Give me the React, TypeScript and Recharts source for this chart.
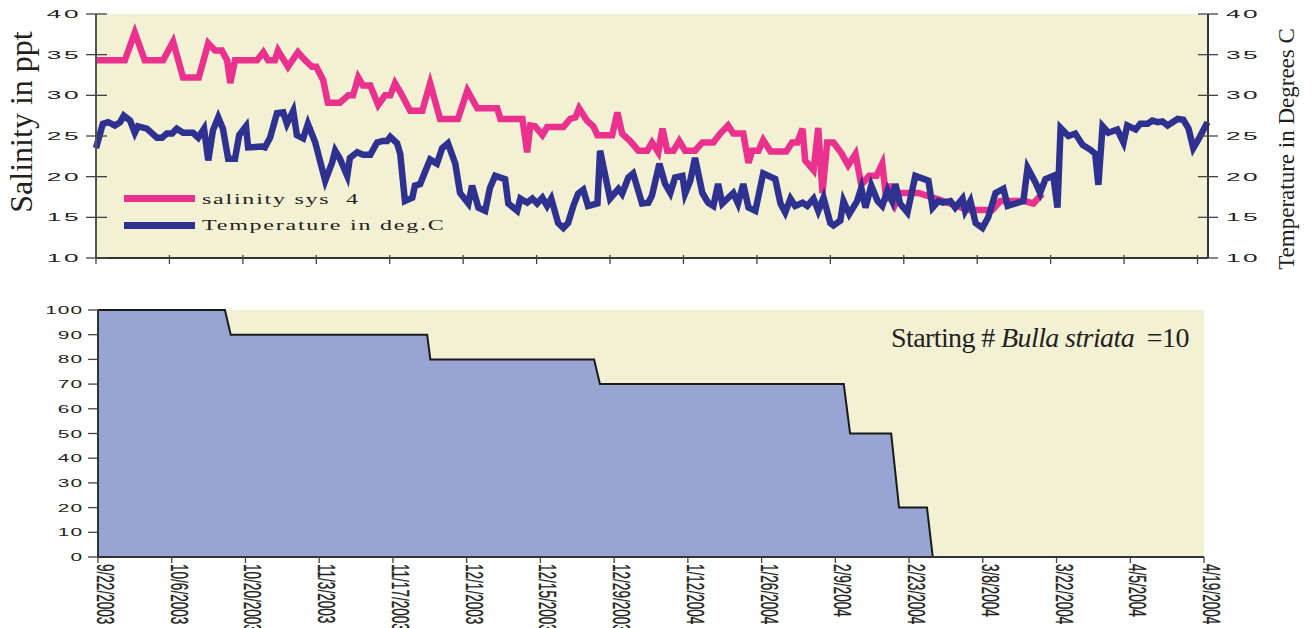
import React from "react"
import { LineChart, Line, AreaChart, Area, XAxis, YAxis, CartesianGrid } from "recharts"

// days since 9/22/2003
const dateTicks = [0, 14, 28, 42, 56, 70, 84, 98, 112, 126, 140, 154, 168, 182, 196, 210]
const dateLabels = [
    "9/22/2003", "10/6/2003", "10/20/2003", "11/3/2003", "11/17/2003", "12/1/2003",
    "12/15/2003", "12/29/2003", "1/12/2004", "1/26/2004", "2/9/2004", "2/23/2004",
    "3/8/2004", "3/22/2004", "4/5/2004", "4/19/2004"
]

const degreeTicks = [10, 15, 20, 25, 30, 35, 40]
const percentTicks = [0, 10, 20, 30, 40, 50, 60, 70, 80, 90, 100]

const salinityDays = [
    0, 5.5, 7.4, 9.3, 12.8, 14.7, 16.6, 19.6, 21.4, 22.7,
    24.0, 25.0, 25.6, 26.5, 30.7, 31.9, 32.8, 34.1, 34.7, 36.6,
    38.5, 39.9, 41.2, 42.0, 43.3, 44.2, 46.5, 48.1, 49.0, 50.0,
    50.9, 52.3, 53.8, 55.1, 56.1, 57.0, 58.0, 59.9, 62.2, 63.7,
    65.6, 69.0, 70.8, 72.7, 76.5, 77.1, 81.3, 82.2, 82.8, 83.7,
    85.1, 86.0, 89.1, 90.4, 91.4, 92.1, 93.6, 94.8, 95.6, 98.4,
    99.4, 100.3, 101.8, 103.4, 105.1, 106.0, 107.2, 108.0, 108.9, 110.1,
    111.2, 112.3, 114.2, 115.6, 117.7, 119.0, 120.5, 121.5, 123.4, 124.4,
    125.1, 126.3, 127.2, 128.6, 131.6, 132.7, 133.7, 134.7, 135.2, 136.8,
    137.7, 138.5, 139.4, 140.6, 142.1, 143.4, 144.8, 145.9, 147.4, 148.8,
    149.9, 150.7, 151.4, 152.4, 153.3, 156.8, 160.6, 166.3, 170.9, 172.4,
    177.0, 178.7, 180.4
]
const salinityValues = [
    34.3, 34.3, 37.7, 34.3, 34.3, 36.6, 32.2, 32.2, 36.4, 35.5,
    35.5, 34.3, 31.5, 34.3, 34.3, 35.3, 34.3, 34.3, 35.5, 33.5,
    35.3, 34.3, 33.5, 33.5, 31.9, 29.1, 29.1, 30.0, 30.0, 32.2,
    31.2, 31.2, 28.8, 30.0, 30.0, 31.5, 30.4, 28.1, 28.1, 31.5,
    27.1, 27.1, 30.6, 28.4, 28.4, 27.1, 27.1, 23.0, 26.3, 26.2,
    25.1, 26.1, 26.1, 27.1, 27.3, 28.4, 26.9, 26.2, 25.1, 25.1,
    27.9, 25.3, 24.4, 23.2, 23.2, 24.2, 23.0, 25.9, 23.2, 23.2,
    24.4, 23.2, 23.2, 24.2, 24.2, 25.3, 26.3, 25.3, 25.3, 21.7,
    23.2, 23.2, 24.5, 23.1, 23.1, 24.2, 24.2, 25.9, 22.0, 20.8,
    26.0, 18.0, 24.2, 24.2, 22.9, 21.4, 22.8, 19.0, 20.1, 20.1,
    21.6, 17.0, 19.1, 16.7, 18.0, 18.0, 17.2, 15.9, 15.9, 17.0,
    17.0, 16.7, 17.9
]

const tempDays = [
    0, 1.3, 2.3, 3.6, 4.6, 5.3, 6.5, 7.4, 8.0, 9.7,
    11.6, 12.6, 13.5, 14.5, 15.4, 16.6, 18.5, 19.5, 20.6, 21.4,
    22.3, 23.3, 24.2, 25.2, 26.5, 27.3, 28.6, 29.0, 31.7, 32.2,
    33.2, 34.5, 35.7, 36.4, 37.6, 38.3, 39.5, 40.4, 41.8, 43.7,
    45.0, 45.6, 46.5, 47.9, 48.4, 49.8, 50.9, 52.3, 53.6, 54.7,
    55.5, 56.1, 57.4, 58.0, 58.9, 60.3, 60.8, 61.8, 62.8, 63.7,
    65.0, 66.0, 67.1, 68.5, 69.4, 71.0, 71.7, 72.9, 74.2, 75.1,
    76.1, 78.0, 78.6, 80.3, 80.9, 82.2, 83.2, 84.1, 85.1, 86.0,
    86.8, 88.1, 89.1, 90.0, 91.0, 91.9, 92.9, 93.8, 95.6, 96.1,
    98.0, 99.6, 100.3, 101.5, 102.4, 104.1, 105.3, 106.0, 107.4, 108.5,
    109.5, 110.4, 111.8, 112.3, 113.3, 114.2, 115.6, 116.7, 117.7, 118.6,
    119.4, 121.5, 122.4, 123.4, 124.4, 125.7, 127.2, 129.5, 130.5, 131.4,
    132.4, 133.3, 134.7, 135.6, 136.8, 137.7, 138.7, 140.0, 140.6, 141.9,
    142.5, 143.6, 145.1, 145.9, 146.7, 147.8, 149.0, 149.9, 150.9, 151.8,
    152.4, 153.3, 154.7, 156.2, 158.7, 159.5, 160.6, 161.5, 162.9, 163.8,
    165.2, 165.7, 166.7, 167.7, 169.0, 170.1, 171.5, 173.0, 173.8, 175.3,
    176.8, 177.6, 179.1, 180.0, 181.0, 182.5, 183.3, 183.9, 185.4, 186.7,
    188.1, 189.6, 190.5, 191.1, 191.9, 193.0, 194.7, 195.9, 196.6, 198.2,
    199.1, 200.5, 201.4, 202.4, 203.3, 204.3, 206.2, 207.3, 208.3, 209.2,
    210.2, 211.9
]
const tempValues = [
    23.5, 26.5, 26.7, 26.3, 26.7, 27.5, 26.9, 25.4, 26.2, 25.9,
    24.8, 24.8, 25.3, 25.3, 25.9, 25.4, 25.4, 24.8, 25.9, 22.0,
    25.7, 27.3, 25.9, 22.2, 22.2, 25.1, 26.2, 23.6, 23.7, 23.6,
    24.8, 27.8, 27.9, 26.5, 28.1, 25.1, 24.7, 26.5, 24.2, 19.5,
    21.7, 23.2, 22.2, 20.1, 22.3, 23.0, 22.7, 22.7, 24.2, 24.4,
    24.4, 24.9, 24.1, 22.8, 17.0, 17.4, 18.9, 19.1, 20.7, 22.1,
    21.6, 23.5, 24.1, 21.6, 18.0, 16.7, 18.9, 16.2, 15.8, 18.6,
    20.1, 19.7, 16.7, 15.8, 17.3, 16.8, 17.3, 16.7, 17.4, 16.4,
    17.3, 14.3, 13.7, 14.3, 16.4, 17.9, 18.4, 16.4, 16.7, 23.2,
    17.3, 18.5, 17.9, 19.9, 20.4, 16.7, 16.8, 17.7, 21.6, 19.1,
    18.0, 19.9, 20.1, 17.9, 19.5, 22.3, 18.0, 16.8, 16.4, 19.1,
    16.7, 18.0, 16.7, 19.1, 16.2, 15.8, 20.4, 19.7, 16.7, 15.6,
    17.3, 16.4, 16.8, 16.4, 17.3, 15.8, 17.4, 14.3, 14.0, 14.6,
    17.0, 15.4, 17.0, 18.6, 16.2, 18.9, 17.0, 16.4, 18.3, 17.0,
    19.1, 16.7, 15.6, 20.1, 19.5, 16.2, 17.0, 16.8, 17.0, 16.2,
    17.3, 15.8, 17.0, 14.3, 13.7, 15.0, 18.0, 18.5, 16.4, 16.7,
    17.0, 21.1, 19.3, 18.0, 19.7, 20.1, 16.2, 26.0, 25.0, 25.3,
    23.9, 23.3, 22.8, 19.0, 26.2, 25.4, 25.8, 24.2, 26.3, 25.8,
    26.5, 26.5, 26.9, 26.7, 26.8, 26.3, 27.1, 27.0, 25.9, 23.5,
    24.6, 26.7
]

const survivalDays = [0, 24.1, 25.2, 62.5, 63.1, 94.2, 95.3, 141.6, 142.8, 150.6, 152.1, 157.4, 158.5, 210]
const survivalValues = [100, 100, 90, 90, 80, 80, 70, 70, 50, 50, 20, 20, 0, 0]

const cream = "#f3f1d4"
const pink = "#e9318d"
const navy = "#2f3190"
const ink = "#231f20"
const serif = "'Liberation Serif', 'Times New Roman', serif"
const sans = "'Liberation Sans', Arial, sans-serif"

const salinityData = salinityDays.map((day, i) => ({ day, salinity: salinityValues[i] }))
const tempData = tempDays.map((day, i) => ({ day, temp: tempValues[i] }))
const survivalData = survivalDays.map((day, i) => ({ day, alive: survivalValues[i] }))

const LeftDegTick = ({ x, y, payload }: any) => (
    <g>
        <line x1={x - 10} x2={x + 11} y1={y} y2={y} stroke="#444" strokeWidth={1.3} />
        <text transform={`translate(${x - 15},${y + 4}) scale(2.5,1)`} textAnchor="end"
            fontSize={10.5} fontFamily={sans} letterSpacing={1} fill={ink}>{payload.value}</text>
    </g>
)

const RightDegTick = ({ x, y, payload }: any) => (
    <g>
        <line x1={x - 10} x2={x + 10} y1={y} y2={y} stroke="#444" strokeWidth={1.3} />
        <text transform={`translate(${x + 18},${y + 4}) scale(2.5,1)`} textAnchor="start"
            fontSize={10.5} fontFamily={sans} letterSpacing={1} fill={ink}>{payload.value}</text>
    </g>
)

const TopDateTick = ({ x, y }: any) => (
    <line x1={x} x2={x} y1={y - 3} y2={y + 6} stroke="#444" strokeWidth={1.3} />
)

const PercentTick = ({ x, y, payload }: any) => (
    <g>
        <line x1={x - 10} x2={x} y1={y} y2={y} stroke="#444" strokeWidth={1.3} />
        <text transform={`translate(${x - 15},${y + 4}) scale(1.9,1)`} textAnchor="end"
            fontSize={11} fontFamily={sans} letterSpacing={0.5} fill={ink}>{payload.value}</text>
    </g>
)

const DateTick = ({ x, y, payload }: any) => {
    const label = dateLabels[dateTicks.indexOf(payload.value)]
    return (
        <g>
            <line x1={x} x2={x} y1={y} y2={y + 6} stroke="#444" strokeWidth={1.3} />
            <text transform={`translate(${x - 1},${y + 7}) rotate(90) scale(0.59,1)`}
                fontSize={23} fontFamily={sans} fill={ink} stroke={ink} strokeWidth={0.4}>{label}</text>
        </g>
    )
}

const legendText: React.CSSProperties = {
    position: "absolute",
    left: 202,
    fontFamily: serif,
    fontSize: 15,
    lineHeight: "15px",
    letterSpacing: 1.1,
    color: ink,
    whiteSpace: "pre",
    transform: "scaleX(1.6)",
    transformOrigin: "left center"
}

export default function App() {
    return (
        <div style={{ position: "absolute", left: 0, top: 0, width: 1313, height: 628, background: "#fff", overflow: "hidden" }}>

            <div style={{ position: "absolute", left: 0, top: 0 }}>
                <LineChart width={1313} height={270} margin={{ top: 14, right: 45, bottom: 2, left: 36 }}>
                    <CartesianGrid xAxisId="b" yAxisId="sal" horizontal={false} vertical={false} fill={cream} />
                    <XAxis xAxisId="b" dataKey="day" type="number" domain={[0, 212]} ticks={dateTicks}
                        height={10} tickSize={0} tickMargin={0} tickLine={false}
                        tick={<TopDateTick />} axisLine={{ stroke: "#333", strokeWidth: 2 }} />
                    <XAxis xAxisId="t" orientation="top" dataKey="day" type="number" domain={[0, 212]}
                        height={0} tick={false} tickLine={false} axisLine={{ stroke: "#999", strokeWidth: 2 }} />
                    <YAxis yAxisId="sal" domain={[10, 40]} ticks={degreeTicks} width={60}
                        tickSize={0} tickMargin={0} tickLine={false} tick={<LeftDegTick />}
                        axisLine={{ stroke: "#555", strokeWidth: 2 }} />
                    <YAxis yAxisId="temp" orientation="right" domain={[10, 40]} ticks={degreeTicks} width={60}
                        tickSize={0} tickMargin={0} tickLine={false} tick={<RightDegTick />}
                        axisLine={{ stroke: "#333", strokeWidth: 2 }} />
                    <Line xAxisId="b" yAxisId="sal" data={salinityData} dataKey="salinity" type="linear"
                        stroke={pink} strokeWidth={6.5} dot={false} isAnimationActive={false} />
                    <Line xAxisId="b" yAxisId="temp" data={tempData} dataKey="temp" type="linear"
                        stroke={navy} strokeWidth={6.5} dot={false} isAnimationActive={false} />
                </LineChart>
            </div>

            <div style={{ position: "absolute", left: 0, top: 280 }}>
                <AreaChart width={1313} height={348} data={survivalData} margin={{ top: 30, right: 109, bottom: 0, left: 38 }}>
                    <CartesianGrid xAxisId="b" yAxisId="p" horizontal={false} vertical={false} fill={cream} />
                    <XAxis xAxisId="b" dataKey="day" type="number" domain={[0, 210]} ticks={dateTicks}
                        height={71} tickSize={0} tickMargin={0} tickLine={false} interval={0}
                        tick={<DateTick />} axisLine={{ stroke: "#333", strokeWidth: 2 }} />
                    <XAxis xAxisId="t" orientation="top" dataKey="day" type="number" domain={[0, 210]}
                        height={0} tick={false} tickLine={false} axisLine={{ stroke: "#999", strokeWidth: 2 }} />
                    <YAxis yAxisId="p" domain={[0, 100]} ticks={percentTicks} width={60} interval={0}
                        tickSize={0} tickMargin={0} tickLine={false} tick={<PercentTick />}
                        axisLine={{ stroke: "#333", strokeWidth: 2 }} />
                    <YAxis yAxisId="r" orientation="right" domain={[0, 100]} width={0}
                        tick={false} tickLine={false} axisLine={{ stroke: "#999", strokeWidth: 2 }} />
                    <Area xAxisId="b" yAxisId="p" dataKey="alive" type="linear" fill="#98a4d2" fillOpacity={1}
                        stroke="#1a1a1a" strokeWidth={2} isAnimationActive={false} />
                </AreaChart>
            </div>

            {/* legend */}
            <div style={{ position: "absolute", left: 124, top: 195, width: 71, height: 7, background: pink }} />
            <div style={{ ...legendText, top: 191.5 }}>salinity sys  4</div>
            <div style={{ position: "absolute", left: 124, top: 221.5, width: 71, height: 7, background: navy }} />
            <div style={{ ...legendText, top: 217.5 }}>Temperature in deg.C</div>

            {/* axis titles */}
            <div style={{
                position: "absolute", left: 21, top: 121.5, fontFamily: serif, fontSize: 32, lineHeight: "32px",
                color: ink, whiteSpace: "nowrap", transform: "translate(-50%,-50%) rotate(-90deg)"
            }}>Salinity in ppt</div>
            <div style={{
                position: "absolute", left: 1286, top: 149, fontFamily: serif, fontSize: 23, lineHeight: "23px",
                color: ink, whiteSpace: "nowrap", transform: "translate(-50%,-50%) rotate(-90deg)"
            }}>Temperature in Degrees C</div>

            {/* annotation */}
            <div style={{
                position: "absolute", left: 891, top: 323.5, fontFamily: serif, fontSize: 28, lineHeight: "28px",
                color: ink, whiteSpace: "pre", letterSpacing: -0.6
            }}>Starting # <i>Bulla striata</i>  =10</div>
        </div>
    )
}
